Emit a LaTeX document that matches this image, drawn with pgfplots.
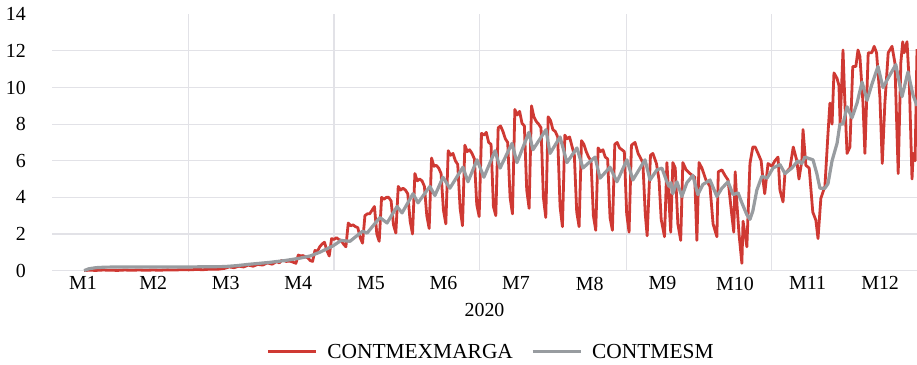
\documentclass[border=0pt]{standalone}
\usepackage{fontspec}
\setmainfont{Liberation Serif}
\usepackage{pgfplots}
\pgfplotsset{compat=1.18}
\definecolor{redline}{RGB}{207,57,51}
\definecolor{grayline}{RGB}{152,156,160}
\definecolor{gridc}{RGB}{226,226,231}
\begin{document}
\begin{tikzpicture}
\path[use as bounding box] (0,0) rectangle (917bp,365bp);
\begin{axis}[
 at={(52bp,94.4bp)}, anchor=south west,
 scale only axis, width=865bp, height=256.3bp,
 xmin=2.5, xmax=366, ymin=0, ymax=14,
 clip=false,
 axis line style={draw=none},
 major tick length=0pt, tick style={draw=none},
 xtick={15.5,45,75.5,106,136.5,167,197.5,228.5,259,289.5,320,350.5},
 xticklabels={M1,M2,M3,M4,M5,M6,M7,M8,M9,M10,M11,M12},
 extra x ticks={60,121,182,244,305},
 extra x tick labels={},
 extra x tick style={grid=major},
 ytick={0,2,...,12},
 extra y ticks={14},
 extra y tick style={grid=none},
 ymajorgrids, xmajorgrids=false,
 grid style={gridc, line width=1.1bp},
 /pgf/number format/assume math mode=true,
 tick label style={font=\fontsize{20}{24}\selectfont, inner sep=0pt},
 yticklabel style={anchor=east, xshift=-26bp},
 xticklabel style={anchor=north, yshift=-6bp},
 xlabel={2020},
 xlabel style={at={(axis description cs:0.5,0)}, anchor=north, inner sep=0pt, yshift=-32.5bp, font=\fontsize{20}{24}\selectfont},
 legend columns=2,
 legend style={at={(axis description cs:0.5064,0)}, anchor=center, yshift=-81.1bp, draw=none, fill=none,
   font=\fontsize{21.5}{25}\selectfont, inner sep=0pt, nodes={inner sep=0pt},
   /tikz/every odd column/.append style={column sep=10bp},
   /tikz/every even column/.append style={column sep=18bp}},
 legend cell align=left,
 legend image code/.code={\draw[#1] (0bp,0bp) -- (48bp,0bp);},
]
\addplot[redline, line width=2.8bp, line join=round] coordinates {
(16,0.00) (18,0.02) (21,0.01) (24,0.03) (27,0.02) (30,0.01) (33,0.03) (36,0.02) (39,0.03) (42,0.02) (45,0.03) (48,0.02) (51,0.04) (54,0.03) (57,0.05) (60,0.04) (63,0.06) (66,0.05) (69,0.08) (72,0.07) (75,0.12) (77,0.2) (79,0.16) (81,0.24) (83,0.2) (85,0.3) (87,0.24) (89,0.34) (91,0.3) (93,0.42) (95,0.35) (97,0.5) (98,0.42)
(99,0.55) (100,0.55) (101,0.5) (102,0.52) (103,0.5) (104,0.45) (105,0.4)
(106,0.85) (107,0.8) (108,0.82) (109,0.75) (110,0.7) (111,0.55) (112,0.5)
(113,1.1) (114,1.05) (115,1.3) (116,1.45) (117,1.55) (118,1.1) (119,0.8)
(120,1.75) (121,1.7) (122,1.8) (123,1.7) (124,1.65) (125,1.45) (126,1.3)
(127,2.6) (128,2.45) (129,2.5) (130,2.4) (131,2.35) (132,1.8) (133,1.5)
(134,3.0) (135,3.1) (136,3.1) (137,3.3) (138,3.5) (139,2.0) (140,1.6)
(141,4.0) (142,3.9) (143,4.0) (144,4.0) (145,3.8) (146,2.5) (147,2.05)
(148,4.6) (149,4.4) (150,4.5) (151,4.4) (152,4.2) (153,2.7) (154,2.0)
(155,5.3) (156,4.9) (157,5.0) (158,4.9) (159,4.6) (160,3.0) (161,2.3)
(162,6.15) (163,5.7) (164,5.75) (165,5.6) (166,5.3) (167,3.3) (168,2.55)
(169,6.55) (170,6.3) (171,6.4) (172,6.0) (173,5.8) (174,3.4) (175,2.45)
(176,6.85) (177,6.5) (178,6.6) (179,6.4) (180,6.1) (181,3.6) (182,2.95)
(183,7.5) (184,7.4) (185,7.55) (186,7.0) (187,6.9) (188,3.5) (189,3.0)
(190,7.8) (191,7.9) (192,7.6) (193,7.2) (194,7.0) (195,4.0) (196,3.1)
(197,8.8) (198,8.5) (199,8.7) (200,8.05) (201,7.9) (202,4.4) (203,3.4)
(204,9.0) (205,8.4) (206,8.15) (207,8.0) (208,7.8) (209,4.0) (210,2.9)
(211,8.4) (212,8.2) (213,7.7) (214,7.6) (215,7.3) (216,3.5) (217,2.4)
(218,7.4) (219,7.2) (220,7.3) (221,6.8) (222,6.3) (223,3.2) (224,2.4)
(225,7.1) (226,6.9) (227,6.5) (228,6.2) (229,6.0) (230,3.0) (231,2.2)
(232,6.7) (233,6.5) (234,6.6) (235,6.2) (236,6.1) (237,2.9) (238,2.2)
(239,6.9) (240,7.0) (241,6.7) (242,6.6) (243,6.5) (244,3.1) (245,2.1)
(246,6.85) (247.5,7.0) (248.8,6.4) (250.8,5.9) (251.8,3.1) (252.6,1.9)
(254,6.3) (255,6.4) (256.5,5.85) (257.6,4.95) (258.5,2.8) (259.9,1.85) (260.9,5.9) (262.5,2.1) (263.4,5.9) (264.4,5.6) (265.5,2.55) (266.7,1.65)
(267.6,5.9) (269,5.5) (270.6,5.3) (272.6,5.1) (273.5,1.65) (274.4,5.9) (275.6,5.6) (277.3,4.95) (279,4.6) (280.3,2.55) (281.9,1.85)
(282.5,5.4) (284,5.5) (285.3,5.2) (286.6,4.95) (288.2,3.0) (289,2.1) (289.6,5.4) (290.4,3.5) (291.2,2.0) (292.4,0.4) (292.9,2.7) (294.5,1.3)
(295.8,5.85) (297,6.75) (298,6.75) (299.2,6.4) (300.5,6.0) (301.3,4.95) (302,4.2) (303.4,5.85) (305,5.7) (306.3,6.0) (307.6,6.2) (308.4,4.4) (309.7,3.75)
(310.5,5.3) (312.6,5.6) (314,6.75) (315.5,6.0) (316.4,5.0) (317.6,6.0) (318.1,7.7) (319.3,5.75) (320.7,5.6) (322.2,3.2) (323.5,2.75) (324.4,1.75)
(325.6,3.95) (327.3,4.6) (328.6,7.5) (329.4,9.15) (330.3,8.0) (331.1,10.8) (332.4,10.5) (333.2,10.1) (333.7,8.0) (334.9,12.05) (335.7,9.15) (336.6,6.4)
(337.8,6.75) (339,11.15) (340.3,11.15) (341.2,12.05) (342,11.7) (343.3,9.15) (344.1,6.4) (345.5,11.9) (347,11.9) (348,12.25) (349,11.9) (350.4,9.5) (351.4,5.85)
(352.5,9.15) (353.9,11.9) (355.5,12.25) (356.7,11.35) (358.1,5.3) (359.2,11.35) (360,12.5) (360.6,11.9) (361.8,12.5) (362.8,10.1) (363.9,5.0) (364.4,6.4) (365.2,6.0) (366,12.1)
};
\addlegendentry{CONTMEXMARGA}
\addplot[grayline, line width=3.2bp, line join=round] coordinates {
(16,0.0) (18,0.1) (21,0.16) (25,0.19) (40,0.2) (60,0.2) (75,0.22) (80,0.27) (85.7,0.35) (94,0.45) (100.4,0.55) (106.7,0.68) (111,0.8) (115,1.0) (120.6,1.35) (124,1.65) (127.7,1.6)
(133,2.15) (134.9,2.05) (140.3,2.9) (143.3,2.6) (147.5,3.5) (149.6,3.15) (154.2,4.2) (156.3,3.7) (161.3,4.6) (163.4,4.1) (166.8,5.1) (169.7,4.5) (175.2,5.65) (177.3,4.85)
(181.1,6.05) (184,5.1) (188.7,6.55) (190.8,5.6) (195.8,6.95) (197.9,5.9) (202.9,7.55) (204.6,6.6) (210.1,7.7) (211.8,6.4) (216,7.3) (218.9,5.9) (223.1,6.7) (225.6,5.6)
(230.7,6.2) (232.8,5.05) (237,5.65) (239.9,4.85) (244.1,6.05) (246.6,4.95) (251.7,6.05) (253.8,4.95) (256.7,5.5) (258.8,5.6) (260.9,4.85) (261.8,4.6) (262.6,4.8) (263.4,4.2)
(265.1,4.85) (267.2,4.05) (269.3,4.8) (271.8,5.2) (273.9,4.15) (276,4.7) (279,4.95) (281.9,4.05) (284,4.5) (286.6,4.85) (288.7,4.15) (290.8,4.25) (292.4,3.7) (294.5,3.05)
(295.8,2.8) (297,3.25) (298.7,4.4) (300.8,5.15) (303,5.05) (305.5,5.6) (308.4,5.8) (310.5,5.3) (313.4,5.6) (316,6.0) (317.6,5.85) (318.9,6.2) (322.3,6.05) (323.9,5.3)
(325.2,4.5) (327.3,4.5) (328.6,4.75) (330.3,6.0) (332.4,6.95) (333.6,8.0) (334.9,8.0) (336.6,8.95) (338.7,8.35) (340.8,9.15) (342.9,10.3) (345,9.3) (347.1,10.2)
(349.6,11.15) (351.7,10.0) (353.8,10.5) (357.1,11.25) (359.7,9.5) (362.2,10.85) (364.3,9.6) (366,9.0)
};
\addlegendentry{CONTMESM}
\end{axis}
\end{tikzpicture}
\end{document}
